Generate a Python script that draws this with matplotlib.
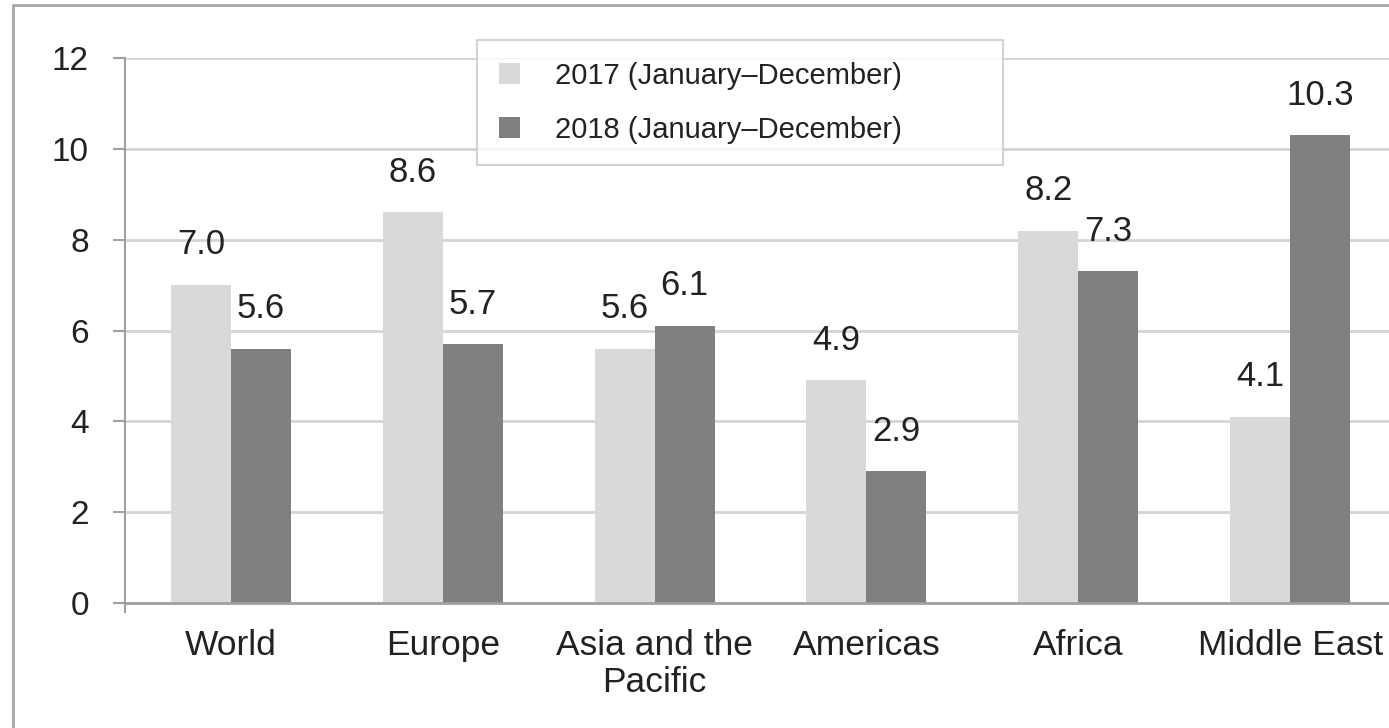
import numpy as np
import matplotlib
matplotlib.use("Agg")
import matplotlib.pyplot as plt
from matplotlib.patches import Rectangle

regions = ["World", "Europe", "Asia and the\nPacific", "Americas", "Africa", "Middle East"]
values_2017 = [7.0, 8.6, 5.6, 4.9, 8.2, 4.1]
values_2018 = [5.6, 5.7, 6.1, 2.9, 7.3, 10.3]
labels = ["2017 (January\u2013December)", "2018 (January\u2013December)"]
yticks = [0, 2, 4, 6, 8, 10, 12]

plt.rcParams['font.family'] = ['Liberation Sans', 'DejaVu Sans']

fig = plt.figure(figsize=(13.89, 7.28), dpi=100)
# outer frame of the original picture (cropped on right and bottom)
fig.patches.append(Rectangle((13 / 1389, -0.1), 1.2, (728 - 5) / 728 + 0.1,
                             transform=fig.transFigure, fill=False,
                             edgecolor='#a6a6a6', linewidth=2))

ax = fig.add_axes([125 / 1389, 1 - 603 / 728, (1396 - 125) / 1389, (603 - 58) / 728])

x = np.arange(len(regions))
w = 0.283
b1 = ax.bar(x - w / 2, values_2017, w, color='#d9d9d9', label=labels[0], zorder=2)
b2 = ax.bar(x + w / 2, values_2018, w, color='#808080', label=labels[1], zorder=2)

for bars, vals in ((b1, values_2017), (b2, values_2018)):
    for r, v in zip(bars, vals):
        ax.annotate(f"{v:.1f}", (r.get_x() + r.get_width() / 2, v),
                    xytext=(0, 17), textcoords='offset points',
                    ha='center', va='bottom', fontsize=25, color='#222222')

ax.set_xlim(-0.5, 5.5)
ax.set_ylim(0, 12)
ax.set_yticks(yticks)
ax.set_xticks(x)
ax.set_xticklabels(regions, fontsize=25.5, color='#222222', linespacing=1.15)
ax.tick_params(axis='x', length=0, pad=19)
ax.tick_params(axis='y', length=9, width=1.5, color='#a0a0a0', pad=17,
               labelsize=24, labelcolor='#222222')

ax.grid(axis='y', color='#d4d4d4', linewidth=2, zorder=0)
for s in ('top', 'right'):
    ax.spines[s].set_visible(False)
ax.spines['left'].set_color('#a0a0a0')
ax.spines['left'].set_linewidth(1.5)
ax.spines['left'].set_bounds(-0.2, 12)
ax.spines['bottom'].set_color('#a0a0a0')
ax.spines['bottom'].set_linewidth(2)

lx0 = (477 - 125) / 1271
lw = (1003 - 477) / 1271
ly1 = 1 + (58 - 40) / 545
leg = ax.legend(loc='upper left', bbox_to_anchor=(lx0, ly1 - 0.3, lw, 0.3), mode='expand',
                fontsize=21, frameon=True, fancybox=False, handlelength=0.72,
                handleheight=0.72, handletextpad=1.2, borderpad=0.75,
                labelspacing=0.88, borderaxespad=0)
leg.get_frame().set_edgecolor('#c8c8c8')
leg.get_frame().set_linewidth(1.5)
for t in leg.get_texts():
    t.set_color('#222222')

fig.savefig("out.png", dpi=100)
